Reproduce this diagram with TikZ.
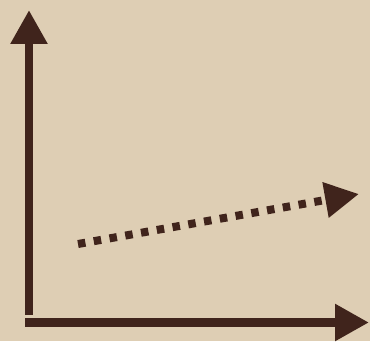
\documentclass[tikz,border=0pt]{standalone}
\usetikzlibrary{arrows.meta}
\definecolor{paper}{RGB}{222,206,180}
\definecolor{ink}{RGB}{64,36,28}
\begin{document}
\begin{tikzpicture}[x=1pt,y=1pt,
  axis/.style={draw=ink,line width=8.5pt,-{Triangle[length=34pt,width=35pt]}},
  trend/.style={draw=ink,line width=8pt,dash pattern=on 7.5pt off 8.5pt,-{Triangle[length=34pt,width=34pt]}}]
\fill[paper] (0,0) rectangle (370,341);
\useasboundingbox (0,0) rectangle (370,341);
\coordinate (ybot) at (29,26);
\coordinate (ytop) at (29,331);
\coordinate (xleft) at (25,18.5);
\coordinate (xright) at (369,18.5);
\coordinate (ts) at (78,97);
\coordinate (te) at (359,147);
\draw[axis] (ybot) -- (ytop);
\draw[axis] (xleft) -- (xright);
\draw[trend] (ts) -- (te);
\end{tikzpicture}
\end{document}
